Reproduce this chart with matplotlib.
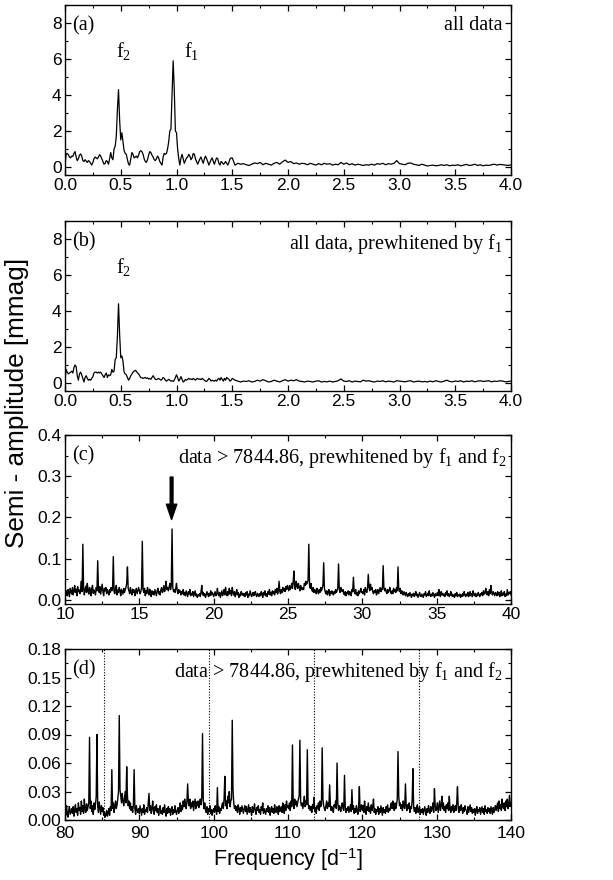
import numpy as np
import matplotlib
matplotlib.use("Agg")
import matplotlib.pyplot as plt
from matplotlib.ticker import MultipleLocator, FormatStrFormatter

plt.rcParams['font.family'] = ['Liberation Sans', 'DejaVu Sans']
plt.rcParams['mathtext.fontset'] = 'custom'
plt.rcParams['mathtext.rm'] = 'Liberation Serif'
plt.rcParams['mathtext.it'] = 'Liberation Serif:italic'
plt.rcParams['mathtext.sf'] = 'Liberation Sans'

# ---------------- data ----------------
# Panel (a): all data, amplitude in mmag
freq_a_lo = np.arange(0, 150) * 0.01          # 0.00 .. 1.49 d^-1
amp_a_lo = [
    0.10, 0.70, 0.75, 0.68, 0.55, 0.50, 0.60, 0.58, 0.75, 0.85,
    0.55, 0.35, 0.45, 0.65, 0.72, 0.60, 0.35, 0.30, 0.40, 0.32,
    0.25, 0.35, 0.30, 0.20, 0.10, 0.25, 0.45, 0.55, 0.50, 0.45,
    0.55, 0.68, 0.60, 0.45, 0.30, 0.15, 0.20, 0.35, 0.30, 0.15,
    0.45, 0.80, 0.50, 0.40, 1.00, 1.15, 1.70, 3.20, 4.30, 2.60,
    1.50, 1.90, 1.40, 0.90, 0.75, 0.70, 0.40, 0.15, 0.10, 0.45,
    0.80, 0.70, 0.50, 0.55, 0.60, 0.50, 0.65, 0.85, 0.90, 0.85,
    0.70, 0.45, 0.30, 0.25, 0.40, 0.65, 0.85, 0.80, 0.65, 0.55,
    0.40, 0.35, 0.45, 0.60, 0.50, 0.30, 0.20, 0.10, 0.55, 0.75,
    0.70, 0.75, 1.00, 1.40, 2.00, 2.10, 4.00, 5.90, 4.30, 2.00,
    1.90, 1.00, 0.45, 0.10, 0.50, 0.70, 0.45, 0.20, 0.35, 0.50,
    0.55, 0.70, 0.60, 0.40, 0.50, 0.75, 0.70, 0.45, 0.30, 0.15,
    0.30, 0.45, 0.55, 0.35, 0.20, 0.45, 0.60, 0.45, 0.30, 0.10,
    0.25, 0.40, 0.50, 0.30, 0.15, 0.35, 0.50, 0.45, 0.20, 0.10,
    0.30, 0.25, 0.15, 0.20, 0.30, 0.20, 0.10, 0.25, 0.45, 0.50,
]
freq_a_hi = np.linspace(1.5, 4.0, 101)        # 0.025 d^-1 steps
amp_a_hi = [
    0.50, 0.10, 0.20, 0.15, 0.18, 0.12, 0.08, 0.15, 0.22, 0.18,
    0.25, 0.12, 0.20, 0.15, 0.10, 0.20, 0.25, 0.15, 0.28, 0.38,
    0.25, 0.30, 0.18, 0.22, 0.15, 0.20, 0.18, 0.12, 0.20, 0.15,
    0.10, 0.18, 0.12, 0.20, 0.15, 0.18, 0.10, 0.15, 0.12, 0.25,
    0.15, 0.22, 0.12, 0.18, 0.10, 0.15, 0.12, 0.08, 0.12, 0.10,
    0.15, 0.10, 0.18, 0.15, 0.20, 0.12, 0.18, 0.15, 0.20, 0.35,
    0.18, 0.15, 0.12, 0.20, 0.22, 0.15, 0.12, 0.08, 0.15, 0.10,
    0.05, 0.08, 0.10, 0.06, 0.08, 0.12, 0.08, 0.12, 0.06, 0.10,
    0.08, 0.12, 0.06, 0.10, 0.14, 0.08, 0.10, 0.15, 0.08, 0.12,
    0.06, 0.10, 0.08, 0.12, 0.15, 0.10, 0.14, 0.12, 0.10, 0.08,
    0.12,
]

# Panel (b): all data prewhitened by f1, amplitude in mmag
freq_b_lo = np.arange(0, 150) * 0.01
amp_b_lo = [
    0.10, 0.75, 0.60, 0.50, 0.55, 0.60, 0.65, 0.55, 0.85, 1.00,
    0.90, 0.40, 0.15, 0.50, 0.60, 0.45, 0.25, 0.05, 0.30, 0.40,
    0.25, 0.15, 0.20, 0.15, 0.25, 0.35, 0.55, 0.60, 0.60, 0.55,
    0.60, 0.55, 0.60, 0.50, 0.40, 0.30, 0.45, 0.55, 0.30, 0.45,
    0.40, 0.45, 0.75, 0.60, 0.65, 1.30, 1.40, 2.60, 4.40, 2.70,
    1.40, 1.50, 1.20, 0.60, 0.50, 0.45, 0.30, 0.15, 0.25, 0.40,
    0.50, 0.60, 0.65, 0.70, 0.65, 0.55, 0.50, 0.40, 0.30, 0.28,
    0.25, 0.28, 0.30, 0.25, 0.28, 0.22, 0.25, 0.20, 0.30, 0.40,
    0.30, 0.20, 0.18, 0.22, 0.25, 0.20, 0.15, 0.20, 0.30, 0.25,
    0.15, 0.10, 0.15, 0.20, 0.15, 0.10, 0.12, 0.08, 0.15, 0.30,
    0.45, 0.30, 0.10, 0.20, 0.35, 0.20, 0.05, 0.10, 0.20, 0.15,
    0.20, 0.25, 0.20, 0.22, 0.18, 0.25, 0.20, 0.15, 0.22, 0.25,
    0.20, 0.22, 0.18, 0.25, 0.20, 0.15, 0.10, 0.08, 0.15, 0.25,
    0.20, 0.10, 0.15, 0.12, 0.10, 0.15, 0.10, 0.20, 0.25, 0.15,
    0.30, 0.20, 0.10, 0.25, 0.15, 0.30, 0.25, 0.20, 0.10, 0.15,
]
freq_b_hi = np.linspace(1.5, 4.0, 101)
amp_b_hi = [
    0.25, 0.15, 0.10, 0.05, 0.10, 0.08, 0.12, 0.05, 0.08, 0.15,
    0.10, 0.18, 0.12, 0.05, 0.08, 0.15, 0.10, 0.05, 0.12, 0.18,
    0.10, 0.15, 0.12, 0.18, 0.10, 0.08, 0.05, 0.10, 0.08, 0.05,
    0.10, 0.12, 0.05, 0.08, 0.06, 0.10, 0.05, 0.08, 0.12, 0.22,
    0.10, 0.08, 0.12, 0.05, 0.10, 0.08, 0.06, 0.15, 0.10, 0.12,
    0.08, 0.05, 0.10, 0.08, 0.12, 0.06, 0.10, 0.08, 0.05, 0.12,
    0.10, 0.08, 0.06, 0.10, 0.12, 0.05, 0.08, 0.10, 0.06, 0.08,
    0.05, 0.10, 0.06, 0.12, 0.08, 0.05, 0.10, 0.15, 0.08, 0.06,
    0.10, 0.08, 0.12, 0.05, 0.10, 0.08, 0.12, 0.06, 0.10, 0.12,
    0.08, 0.10, 0.12, 0.06, 0.10, 0.08, 0.12, 0.10, 0.06, 0.08,
    0.10,
]

# Panel (c): data > 7844.86, 10-40 d^-1, 0.05 d^-1 grid; amplitude in micro-mag
freq_c = np.linspace(10.0, 40.0, 601)
amp_c_umag = [
    3, 15, 22, 10, 25, 18, 8, 28, 20, 14, 30, 12, 22, 35, 18, 26, 10, 32, 20, 24,
    15, 28, 45, 20, 135, 30, 12, 25, 33, 18, 40, 22, 14, 30, 25, 10, 28, 35, 16, 24,
    20, 12, 30, 22, 95, 25, 18, 32, 14, 26, 38, 20, 10, 28, 22, 30, 15, 25, 20, 12,
    25, 18, 30, 22, 28, 105, 20, 15, 28, 35, 12, 24, 18, 30, 22, 10, 26, 20, 14, 28,
    18, 25, 30, 40, 80, 28, 22, 15, 30, 20, 12, 26, 18, 24, 10, 20, 28, 15, 22, 30,
    22, 15, 20, 30, 142, 25, 18, 28, 10, 22, 15, 30, 20, 12, 26, 18, 8, 22, 14, 20,
    12, 25, 18, 10, 22, 28, 15, 20, 12, 25, 30, 18, 22, 35, 20, 28, 45, 25, 30, 22,
    30, 40, 25, 35, 172, 30, 20, 25, 18, 28, 40, 22, 15, 25, 18, 22, 12, 20, 15, 25,
    12, 18, 10, 22, 15, 8, 20, 14, 25, 10, 16, 12, 20, 8, 15, 22, 10, 14, 6, 12,
    10, 15, 8, 20, 35, 12, 18, 10, 15, 6, 12, 20, 14, 8, 16, 10, 22, 12, 18, 15,
    8, 14, 20, 10, 12, 28, 15, 10, 18, 6, 14, 22, 10, 16, 25, 12, 30, 15, 10, 20,
    12, 28, 15, 22, 10, 30, 18, 12, 20, 8, 15, 25, 12, 18, 6, 14, 10, 20, 12, 16,
    10, 15, 8, 18, 12, 20, 6, 14, 10, 22, 15, 8, 12, 18, 10, 14, 20, 12, 8, 16,
    12, 8, 15, 10, 20, 14, 6, 18, 12, 22, 10, 15, 8, 20, 14, 25, 12, 18, 10, 22,
    15, 20, 12, 25, 18, 28, 14, 22, 45, 20, 15, 25, 18, 30, 22, 28, 20, 32, 25, 35,
    28, 22, 35, 25, 30, 40, 28, 45, 70, 30, 25, 45, 35, 28, 40, 30, 22, 35, 28, 25,
    30, 25, 40, 35, 45, 38, 42, 48, 135, 35, 28, 40, 25, 20, 30, 18, 25, 22, 15, 28,
    20, 15, 25, 18, 30, 22, 28, 35, 90, 28, 20, 15, 22, 12, 18, 25, 10, 20, 15, 22,
    18, 12, 20, 15, 25, 18, 22, 30, 87, 25, 18, 30, 22, 20, 25, 15, 12, 20, 10, 18,
    15, 22, 12, 20, 18, 10, 25, 20, 55, 22, 15, 25, 12, 18, 10, 22, 15, 20, 28, 18,
    20, 15, 25, 12, 30, 22, 18, 28, 62, 30, 22, 38, 25, 30, 20, 15, 22, 18, 25, 12,
    18, 25, 15, 22, 30, 20, 28, 25, 83, 30, 22, 28, 20, 15, 25, 18, 22, 30, 20, 15,
    22, 15, 28, 20, 25, 18, 30, 22, 80, 25, 20, 28, 15, 22, 18, 12, 20, 15, 10, 18,
    12, 8, 15, 10, 18, 12, 6, 14, 10, 16, 8, 12, 20, 10, 14, 6, 12, 18, 10, 8,
    14, 10, 6, 15, 12, 20, 8, 12, 16, 10, 22, 12, 8, 14, 10, 18, 12, 6, 15, 10,
    12, 18, 10, 25, 14, 8, 20, 12, 16, 10, 14, 8, 18, 12, 22, 10, 15, 8, 12, 20,
    10, 14, 8, 12, 6, 15, 10, 18, 8, 12, 10, 14, 6, 12, 8, 15, 10, 20, 12, 8,
    14, 10, 18, 8, 12, 20, 10, 15, 8, 22, 12, 10, 16, 8, 14, 10, 18, 12, 8, 15,
    12, 18, 10, 22, 14, 15, 28, 18, 12, 20, 10, 25, 15, 35, 18, 12, 20, 15, 10, 18,
    15, 10, 20, 12, 18, 8, 14, 22, 10, 16, 12, 20, 8, 14, 10, 25, 12, 18, 15, 20,
    12,
]

# Panel (d): data > 7844.86, 80-140 d^-1, 0.1 d^-1 grid; amplitude in micro-mag
freq_d = np.linspace(80.0, 140.0, 601)
amp_d_umag = [
    12, 5, 15, 8, 3, 10, 14, 6, 9, 12,
    7, 14, 4, 11, 16, 8, 12, 5, 18, 10,
    13, 6, 20, 9, 15, 7, 22, 11, 8, 17,
    10, 14, 18, 87, 12, 20, 9, 15, 6, 18,
    11, 16, 25, 90, 14, 8, 19, 12, 6, 15,
    9, 13, 5, 8, 3, 6, 10, 4, 7, 12,
    5, 14, 10, 53, 12, 18, 8, 15, 20, 12,
    16, 22, 30, 110, 32, 25, 18, 28, 20, 15,
    22, 30, 18, 56, 25, 15, 20, 12, 18, 10,
    14, 8, 16, 53, 12, 6, 15, 10, 8, 12,
    7, 15, 10, 5, 12, 8, 16, 6, 11, 9,
    13, 8, 18, 28, 10, 15, 7, 12, 20, 9,
    6, 14, 10, 16, 8, 12, 5, 11, 15, 7,
    10, 6, 13, 8, 16, 9, 4, 12, 7, 14,
    8, 12, 5, 10, 14, 6, 11, 8, 15, 9,
    6, 10, 13, 7, 12, 18, 9, 15, 11, 20,
    14, 22, 16, 12, 20, 38, 18, 15, 22, 12,
    18, 14, 20, 10, 16, 22, 12, 19, 15, 20,
    13, 18, 22, 16, 24, 91, 20, 12, 18, 10,
    8, 14, 6, 12, 9, 15, 7, 11, 5, 10,
    12, 8, 15, 10, 6, 34, 9, 14, 7, 12,
    10, 15, 18, 12, 22, 46, 15, 20, 12, 25,
    18, 30, 14, 20, 22, 105, 32, 18, 12, 15,
    10, 14, 8, 16, 12, 6, 13, 9, 15, 11,
    7, 12, 15, 9, 14, 6, 11, 16, 8, 13,
    10, 5, 14, 8, 12, 17, 9, 6, 13, 10,
    15, 8, 11, 6, 14, 10, 18, 7, 12, 9,
    6, 12, 9, 15, 8, 13, 5, 11, 14, 8,
    12, 7, 16, 10, 8, 14, 11, 6, 15, 9,
    10, 14, 8, 18, 12, 7, 16, 10, 20, 13,
    15, 12, 18, 10, 20, 14, 79, 18, 12, 22,
    16, 20, 14, 18, 22, 25, 84, 20, 15, 18,
    12, 18, 25, 14, 20, 16, 74, 18, 12, 15,
    10, 14, 8, 16, 12, 24, 9, 13, 7, 15,
    12, 18, 10, 20, 14, 16, 76, 22, 15, 12,
    10, 15, 20, 12, 18, 14, 37, 16, 10, 14,
    12, 8, 16, 14, 20, 12, 60, 18, 10, 15,
    13, 9, 15, 18, 12, 10, 47, 14, 8, 12,
    10, 14, 8, 12, 16, 9, 32, 11, 15, 7,
    12, 8, 15, 10, 6, 14, 35, 9, 13, 16,
    10, 15, 8, 20, 12, 6, 14, 10, 18, 9,
    13, 7, 16, 10, 14, 22, 8, 12, 6, 11,
    9, 14, 6, 12, 8, 15, 10, 5, 13, 8,
    11, 7, 14, 9, 16, 8, 12, 10, 15, 18,
    12, 20, 14, 10, 18, 12, 16, 22, 72, 25,
    15, 18, 12, 16, 10, 20, 14, 12, 38, 15,
    10, 16, 12, 18, 8, 14, 12, 20, 54, 14,
    9, 13, 7, 12, 16, 8, 10, 14, 6, 11,
    8, 12, 6, 10, 14, 9, 5, 12, 8, 15,
    10, 7, 14, 9, 12, 18, 8, 33, 15, 10,
    12, 18, 8, 14, 20, 10, 15, 25, 12, 18,
    10, 14, 8, 16, 12, 18, 10, 25, 12, 8,
    14, 10, 16, 8, 12, 15, 10, 18, 35, 12,
    8, 14, 10, 16, 12, 7, 13, 9, 15, 11,
    10, 6, 14, 8, 12, 16, 9, 13, 7, 11,
    8, 12, 5, 10, 14, 7, 11, 9, 13, 6,
    10, 14, 8, 12, 6, 15, 9, 11, 7, 13,
    9, 12, 7, 14, 10, 6, 13, 8, 11, 15,
    10, 14, 18, 9, 20, 12, 16, 10, 22, 14,
    12, 18, 10, 20, 14, 22, 12, 16, 26, 15,
    18,
]

# dotted reference lines in panel (d)
dotted_d = [85.29, 99.42, 113.55, 127.68]
# arrow in panel (c)
arrow_c_freq = 17.17

# ---------------- figure ----------------
W, H = 613, 880
fig = plt.figure(figsize=(W / 100, H / 100), dpi=100)

def axbox(top_px, bot_px, left_px=65, right_px=511):
    return [left_px / W, 1 - bot_px / H, (right_px - left_px) / W, (bot_px - top_px) / H]

ax_a = fig.add_axes(axbox(5, 175))
ax_b = fig.add_axes(axbox(221, 391))
ax_c = fig.add_axes(axbox(435, 604))
ax_d = fig.add_axes(axbox(649, 820))

lw = 0.9
ax_a.plot(np.concatenate([freq_a_lo, freq_a_hi]), amp_a_lo + amp_a_hi, color='k', lw=lw)
ax_b.plot(np.concatenate([freq_b_lo, freq_b_hi]), amp_b_lo + amp_b_hi, color='k', lw=lw)
ax_c.plot(freq_c, np.array(amp_c_umag) / 1000.0, color='k', lw=1.0)
ax_d.plot(freq_d, np.array(amp_d_umag) / 1000.0, color='k', lw=1.0)
for xv in dotted_d:
    ax_d.axvline(xv, color='k', ls=(0, (1, 1.5)), lw=0.8)

serif = 'Liberation Serif'
tsz = 14.5

for ax in (ax_a, ax_b):
    ax.set_xlim(0, 4)
    ax.set_ylim(-0.45, 9)
    ax.xaxis.set_major_locator(MultipleLocator(0.5))
    ax.xaxis.set_minor_locator(MultipleLocator(0.25))
    ax.yaxis.set_major_locator(MultipleLocator(2))
    ax.yaxis.set_minor_locator(MultipleLocator(1))
    ax.xaxis.set_major_formatter(FormatStrFormatter('%.1f'))
    ax.yaxis.set_major_formatter(FormatStrFormatter('%d'))

ax_c.set_xlim(10, 40)
ax_c.set_ylim(-0.01, 0.4)
ax_c.xaxis.set_major_locator(MultipleLocator(5))
ax_c.xaxis.set_minor_locator(MultipleLocator(2.5))
ax_c.yaxis.set_major_locator(MultipleLocator(0.1))
ax_c.yaxis.set_minor_locator(MultipleLocator(0.05))
ax_c.yaxis.set_major_formatter(FormatStrFormatter('%.1f'))

ax_d.set_xlim(80, 140)
ax_d.set_ylim(0, 0.18)
ax_d.xaxis.set_major_locator(MultipleLocator(10))
ax_d.xaxis.set_minor_locator(MultipleLocator(5))
ax_d.yaxis.set_major_locator(MultipleLocator(0.03))
ax_d.yaxis.set_minor_locator(MultipleLocator(0.015))
ax_d.yaxis.set_major_formatter(FormatStrFormatter('%.2f'))

for ax in (ax_a, ax_b, ax_c, ax_d):
    ax.tick_params(which='both', direction='in', top=True, right=True, labelsize=12.5, pad=2.5)
    ax.tick_params(which='major', length=4.5, width=0.9)
    ax.tick_params(which='minor', length=2.5, width=0.8)
    for s in ax.spines.values():
        s.set_linewidth(1.0)
ax_d.tick_params(axis='x', which='both', pad=4.0)

# panel letters and descriptions
for ax, letter in ((ax_a, '(a)'), (ax_b, '(b)'), (ax_c, '(c)'), (ax_d, '(d)')):
    ax.text(0.016, 0.935, letter, transform=ax.transAxes, ha='left', va='top',
            family=serif, fontsize=tsz)

ax_a.text(0.982, 0.935, 'all data', transform=ax_a.transAxes, ha='right', va='top',
          family=serif, fontsize=tsz)
ax_b.text(0.982, 0.935, r'all data, prewhitened by f$_1$', transform=ax_b.transAxes,
          ha='right', va='top', family=serif, fontsize=tsz)
ax_c.text(0.99, 0.935, r'data > 7844.86, prewhitened by f$_1$ and f$_2$', transform=ax_c.transAxes,
          ha='right', va='top', family=serif, fontsize=tsz)
ax_d.text(0.982, 0.935, r'data > 7844.86, prewhitened by f$_1$ and f$_2$', transform=ax_d.transAxes,
          ha='right', va='top', family=serif, fontsize=tsz)

ax_a.text(0.455, 6.1, r'f$_2$', ha='left', va='baseline', family=serif, fontsize=tsz)
ax_a.text(1.07, 6.1, r'f$_1$', ha='left', va='baseline', family=serif, fontsize=tsz)
ax_b.text(0.455, 6.1, r'f$_2$', ha='left', va='baseline', family=serif, fontsize=tsz)

ax_c.annotate('', xy=(arrow_c_freq, 0.195), xytext=(arrow_c_freq, 0.298),
              arrowprops=dict(facecolor='k', edgecolor='k', width=2.0, headwidth=7.5,
                              headlength=11, shrink=0))

fig.text(0.028, 1 - 403 / H, 'Semi - amplitude [mmag]', rotation=90, ha='center', va='center',
         fontsize=18.8)
fig.text(288 / W, 1 - 860 / H, r'Frequency [d$^{\mathsf{-1}}$]', ha='center', va='center',
         fontsize=15.5)

fig.savefig('out.png', dpi=100)
